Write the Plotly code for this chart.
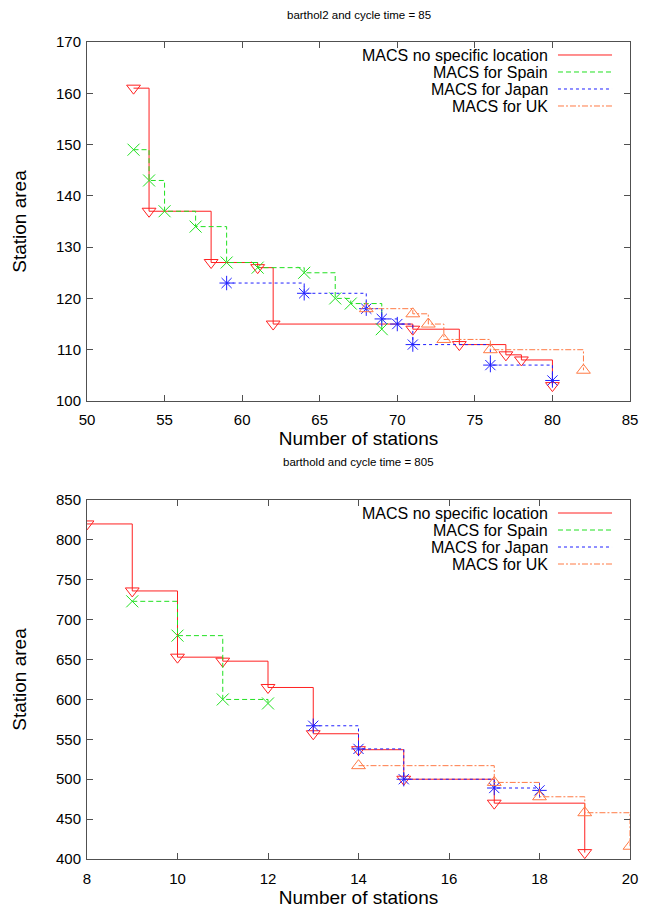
import plotly.graph_objects as go
from plotly.subplots import make_subplots

# ---------------- data ----------------
series_names = ["MACS no specific location", "MACS for Spain", "MACS for Japan", "MACS for UK"]

# top chart: barthol2, cycle time = 85
top_red_x = [53, 54, 58, 61, 62, 71, 74, 77, 78, 80]
top_red_y = [161, 137, 127, 126, 115, 114, 111, 109, 108, 103]
top_green_x = [53, 54, 55, 57, 59, 61, 64, 66, 67, 69]
top_green_y = [149, 143, 137, 134, 127, 126, 125, 120, 119, 114]
top_blue_x = [59, 64, 68, 69, 70, 71, 76, 80]
top_blue_y = [123, 121, 118, 116, 115, 111, 107, 104]
top_orange_x = [68, 71, 72, 73, 76, 82]
top_orange_y = [118, 117, 115, 112, 110, 106]

# bottom chart: barthold, cycle time = 805
bot_red_x = [8, 9, 10, 11, 12, 13, 14, 15, 17, 19]
bot_red_y = [820, 736, 653, 648, 615, 557, 537, 500, 470, 408]
bot_green_x = [9, 10, 11, 12]
bot_green_y = [723, 680, 600, 595]
bot_blue_x = [13, 14, 15, 17, 18]
bot_blue_y = [567, 538, 500, 489, 486]
bot_orange_x = [14, 17, 18, 19, 20]
bot_orange_y = [517, 496, 478, 458, 416]

top_title = "barthol2 and cycle time = 85"
bot_title = "barthold and cycle time = 805"
x_title = "Number of stations"
y_title = "Station area"

top_xticks = [50, 55, 60, 65, 70, 75, 80, 85]
top_yticks = [100, 110, 120, 130, 140, 150, 160, 170]
bot_xticks = [8, 10, 12, 14, 16, 18, 20]
bot_yticks = [400, 450, 500, 550, 600, 650, 700, 750, 800, 850]

# ---------------- styles ----------------
colors = ["#ff2020", "#20e020", "#2020ff", "#ff7a45"]
dashes = ["solid", "5px,3px", "3px,3px", "6px,2px,2px,2px"]
symbols = ["triangle-down-open", "x-thin-open", "asterisk-open", "triangle-up-open"]
msizes = [12, 12, 12, 12]
FONT = "Liberation Sans, Arial, sans-serif"
AXC = "#505050"

fig = make_subplots(rows=2, cols=1)

top_data = [(top_red_x, top_red_y), (top_green_x, top_green_y),
            (top_blue_x, top_blue_y), (top_orange_x, top_orange_y)]
bot_data = [(bot_red_x, bot_red_y), (bot_green_x, bot_green_y),
            (bot_blue_x, bot_blue_y), (bot_orange_x, bot_orange_y)]

for row, data in ((1, top_data), (2, bot_data)):
    for i, (xs, ys) in enumerate(data):
        fig.add_trace(go.Scatter(
            x=xs, y=ys, mode="lines+markers", name=series_names[i],
            line=dict(color=colors[i], width=1, dash=dashes[i], shape="hv"),
            marker=dict(symbol=symbols[i], size=msizes[i], color=colors[i],
                        line=dict(color=colors[i], width=1)),
            showlegend=False), row=row, col=1)

axis_common = dict(showgrid=False, zeroline=False, showline=True, linecolor=AXC,
                   linewidth=1, mirror="ticks", ticks="inside", ticklen=6,
                   tickcolor=AXC, automargin=False,
                   tickfont=dict(family=FONT, size=15, color="black"))

fig.update_xaxes(**axis_common)
fig.update_yaxes(**axis_common)

xt = dict(text=x_title, font=dict(family=FONT, size=19, color="black"), standoff=4)
yt = dict(text=y_title, font=dict(family=FONT, size=19, color="black"), standoff=24)

fig.update_layout(
    xaxis=dict(domain=[0, 1], range=[50, 85], tickvals=top_xticks, ticklabelstandoff=5, title=xt),
    yaxis=dict(domain=[0.5606, 1.0], range=[100, 170], tickvals=top_yticks, ticklabelstandoff=2, title=yt),
    xaxis2=dict(domain=[0, 1], range=[8, 20], tickvals=bot_xticks, ticklabelstandoff=6, title=xt),
    yaxis2=dict(domain=[0.0, 0.4394], range=[400, 850], tickvals=bot_yticks, ticklabelstandoff=2, title=yt),
)

annotations = []
shapes = []
for xr, yr, title, ty in (("x domain", "y domain", top_title, 1.075),
                          ("x2 domain", "y2 domain", bot_title, 1.106)):
    annotations.append(dict(text=title, xref=xr, yref=yr, x=0.5, y=ty, showarrow=False,
                            xanchor="center", yanchor="middle",
                            font=dict(family=FONT, size=11.5, color="black")))
    for i, name in enumerate(series_names):
        yy = 1 - (13.5 + 17 * i) / 359
        ys = 1 - (13.0 + 17 * i) / 359
        annotations.append(dict(text=name, xref=xr, yref=yr, x=0.8527, y=yy, showarrow=False,
                                xanchor="right", yanchor="middle",
                                font=dict(family=FONT, size=16, color="black")))
        shapes.append(dict(type="line", xref=xr, yref=yr, x0=0.8674, x1=0.9669, y0=ys, y1=ys,
                           layer="above",
                           line=dict(color=colors[i], width=1, dash=dashes[i])))

fig.update_layout(
    annotations=annotations, shapes=shapes,
    width=659, height=910,
    margin=dict(l=87, r=29, t=42, b=51),
    paper_bgcolor="white", plot_bgcolor="white",
    font=dict(family=FONT, color="black"),
)

fig.write_html("out.html", config={"displayModeBar": False},
               post_script="document.body.style.margin='0';document.body.style.overflow='hidden';")
